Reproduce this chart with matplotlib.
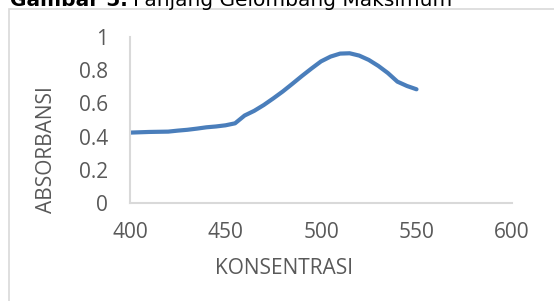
import numpy as np
import matplotlib.pyplot as plt
from matplotlib.patches import Rectangle

# panjang gelombang (nm) dan absorbansi
panjang_gelombang = [400, 405, 410, 415, 420, 425, 430, 435, 440, 445, 450, 455,
                     460, 465, 470, 475, 480, 485, 490, 495, 500, 505, 510, 515,
                     520, 525, 530, 535, 540, 545, 550]
absorbansi = [0.424, 0.426, 0.428, 0.429, 0.430, 0.436, 0.441, 0.448, 0.456, 0.461,
              0.468, 0.480, 0.527, 0.555, 0.590, 0.630, 0.672, 0.718, 0.765, 0.810,
              0.853, 0.882, 0.900, 0.902, 0.888, 0.862, 0.826, 0.783, 0.731, 0.705,
              0.685]
x_ticks = [400, 450, 500, 550, 600]
y_ticks = [0, 0.2, 0.4, 0.6, 0.8, 1]
y_ticklabels = ["0", "0.2", "0.4", "0.6", "0.8", "1"]

abu = "#595959"
garis = "#d9d9d9"
huruf = "Open Sans"

fig = plt.figure(figsize=(5.54, 3.01), dpi=100)
ax = fig.add_axes([130/554, 1-203/301, (512-130)/554, (203-37)/301])

ax.plot(panjang_gelombang, absorbansi, color="#4a7ebb", lw=3, solid_capstyle="round")
ax.set_xlim(400, 600)
ax.set_ylim(0, 1)
ax.set_xticks(x_ticks)
ax.set_yticks(y_ticks)
ax.set_yticklabels(y_ticklabels)
ax.tick_params(length=0, labelsize=15, colors=abu)
ax.tick_params(axis="x", pad=14)
ax.tick_params(axis="y", pad=16)
for lbl in ax.get_xticklabels() + ax.get_yticklabels():
    lbl.set_fontfamily(huruf)
for s in ["top", "right"]:
    ax.spines[s].set_visible(False)
for s in ["left", "bottom"]:
    ax.spines[s].set_color(garis)
    ax.spines[s].set_linewidth(1.5)

fig.text(284/554, 1-269/301, "KONSENTRASI", ha="center", va="center", fontsize=15,
         color=abu, family=huruf)
fig.text(47/554, 1-150/301, "ABSORBANSI", ha="center", va="center", rotation=90,
         fontsize=15, color=abu, family=huruf)

# bingkai grafik (terpotong di kanan dan bawah)
fig.patches.append(Rectangle((9/554, -0.1), 1.0, 1-9/301+0.1, transform=fig.transFigure,
                             fill=False, edgecolor=garis, lw=1.2))

# judul, sebagian terpotong di atas seperti aslinya
t1 = fig.text(10/554, 1-6/301, "Gambar 5.", fontsize=14.5, fontweight="bold",
              color="black", va="baseline")
fig.canvas.draw()
bb = t1.get_window_extent()
fig.text(bb.x1/554 + 5/554, 1-6/301, "Panjang Gelombang Maksimum", fontsize=14.5,
         color="black", va="baseline")

fig.savefig("out.png", dpi=100)
